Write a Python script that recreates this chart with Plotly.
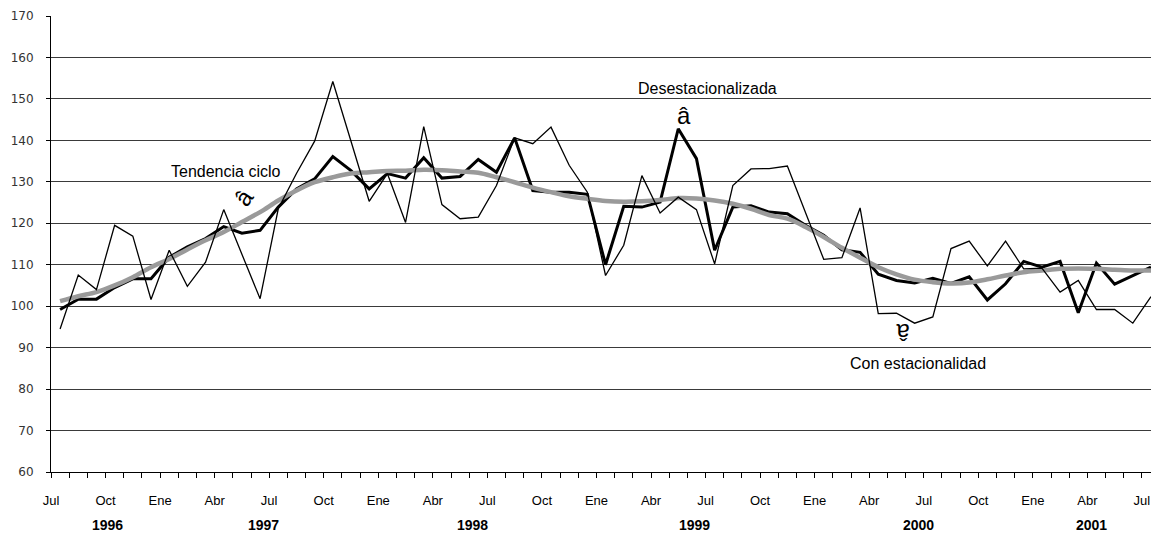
import plotly.graph_objects as go

# Jul 1996 .. Jul 2001, monthly
MESES = ["Ene", "Feb", "Mar", "Abr", "May", "Jun", "Jul", "Ago", "Sep", "Oct", "Nov", "Dic"]
meses = [MESES[(6 + i) % 12] for i in range(61)]
mostrar = {"Jul", "Oct", "Ene", "Abr"}
anios = ["1996", "1997", "1998", "1999", "2000", "2001"]
anio_pos = [2.6, 11.2, 22.7, 34.9, 47.2, 56.7]

con_estacionalidad = [
    94.5, 107.5, 104.0, 119.5, 116.9, 101.6, 113.5, 104.8, 110.6, 123.3,
    112.5, 101.8, 123.5, 132.0, 139.8, 154.2, 139.8, 125.3, 132.0, 120.2,
    143.3, 124.5, 121.1, 121.5, 129.1, 140.6, 139.2, 143.2, 134.0, 127.5,
    107.4, 114.7, 131.5, 122.5, 126.3, 123.3, 110.2, 129.1, 133.1, 133.2,
    133.8, 122.5, 111.3, 111.7, 123.7, 98.2, 98.3, 95.9, 97.4, 113.9,
    115.7, 109.7, 115.7, 109.0, 109.2, 103.4, 106.2, 99.2, 99.2, 95.9,
    102.3,
]
desestacionalizada = [
    99.2, 101.7, 101.7, 104.5, 106.6, 106.6, 111.8, 114.3, 116.3, 119.2,
    117.6, 118.3, 123.9, 128.3, 130.7, 136.1, 132.7, 128.3, 132.0, 130.9,
    135.8, 130.9, 131.3, 135.4, 132.3, 140.6, 127.9, 127.5, 127.5, 127.0,
    110.0, 124.1, 123.9, 125.1, 142.8, 135.6, 113.5, 123.9, 124.2, 122.7,
    122.3, 119.5, 117.1, 113.6, 113.0, 107.7, 106.2, 105.6, 106.7, 105.5,
    107.1, 101.5, 105.4, 110.8, 109.4, 110.8, 98.4, 110.4, 105.3, 107.3,
    109.4,
]
tendencia = [
    101.2, 102.4, 103.4, 105.0, 107.0, 109.4, 111.4, 113.7, 115.9, 117.9,
    120.3, 122.7, 125.5, 127.9, 129.9, 131.1, 132.0, 132.3, 132.6, 132.7,
    132.9, 132.8, 132.5, 132.2, 131.1, 129.9, 128.6, 127.5, 126.5, 125.9,
    125.4, 125.2, 125.3, 125.6, 126.1, 126.0, 125.5, 124.7, 123.5, 122.0,
    121.1, 119.1, 116.7, 114.1, 111.7, 109.4, 107.7, 106.4, 105.8, 105.5,
    105.7, 106.5, 107.4, 108.2, 108.6, 109.0, 109.1, 109.0, 108.8, 108.6,
    108.6,
]

x = list(range(len(meses)))
FONT = "Liberation Sans, Arial, sans-serif"

fig = go.Figure()
fig.add_trace(go.Scatter(x=x, y=desestacionalizada, mode="lines",
                         line=dict(color="black", width=3), name="Desestacionalizada"))
fig.add_trace(go.Scatter(x=x, y=tendencia, mode="lines",
                         line=dict(color="#9a9a9a", width=4.5, shape="spline"), name="Tendencia ciclo"))
fig.add_trace(go.Scatter(x=x, y=con_estacionalidad, mode="lines",
                         line=dict(color="black", width=1.3), name="Con estacionalidad"))

tickvals = [i - 0.5 for i in x]
ticktext = [m if (m in mostrar and i % 3 == 0) else "" for i, m in enumerate(meses)]

fig.update_xaxes(
    range=[-0.5, 60.0], tickvals=tickvals, ticktext=ticktext, automargin=False,
    ticks="outside", ticklen=5, tickcolor="black", showgrid=False,
    showline=True, linecolor="black", linewidth=1, zeroline=False,
    tickfont=dict(family=FONT, size=13, color="black"), ticklabelstandoff=11,
)
fig.update_yaxes(
    range=[60, 170], dtick=10, showgrid=True, gridcolor="#3a3a3a", gridwidth=1,
    showline=True, linecolor="black", linewidth=1, zeroline=False, automargin=False,
    ticks="outside", ticklen=4, tickcolor="black", ticklabelstandoff=10,
    tickfont=dict(family="DejaVu Sans, Verdana, sans-serif", size=12, color="#333333"),
)

anns = []
for a, p in zip(anios, anio_pos):
    anns.append(dict(x=p, y=-0.117, xref="x", yref="paper", text=f"<b>{a}</b>", showarrow=False,
                     font=dict(family=FONT, size=14, color="black"), yanchor="middle"))

etiquetas = [
    ("Tendencia ciclo", 9.1, 132.5, 0, 16),
    ("Desestacionalizada", 35.6, 152.5, 0, 16),
    ("Con estacionalidad", 47.2, 86.2, 0, 16),
    ("â", 10.1, 126.2, -55, 24),
    ("â", 34.3, 146.0, 0, 24),
    ("â", 46.35, 93.8, 180, 24),
]
for t, ex, ey, ang, sz in etiquetas:
    anns.append(dict(x=ex, y=ey, xref="x", yref="y", text=t, showarrow=False, textangle=ang,
                     font=dict(family=FONT, size=sz, color="black")))

fig.update_layout(
    width=1151, height=533, showlegend=False,
    plot_bgcolor="white", paper_bgcolor="white",
    margin=dict(l=51, r=0, t=16, b=61),
    annotations=anns,
)

fig.write_html(
    "out.html",
    config={"displayModeBar": False},
    post_script="document.body.style.margin='0';document.body.style.overflow='hidden';",
)
